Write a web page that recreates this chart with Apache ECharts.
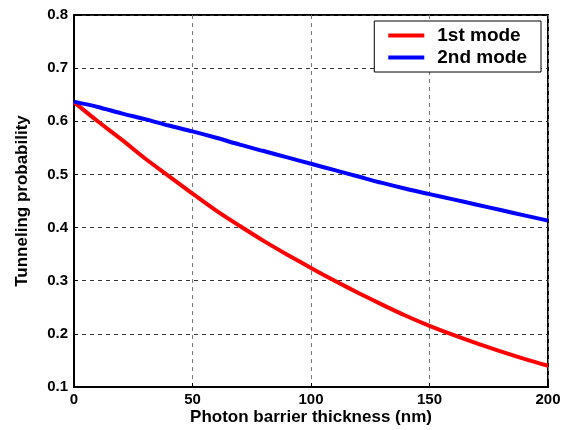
<!DOCTYPE html>
<html><head><meta charset="utf-8">
<script src="https://cdn.jsdelivr.net/npm/echarts@6/dist/echarts.min.js"></script>
<style>html,body{margin:0;padding:0;background:#fff}#c{width:561px;height:430px}</style>
</head><body><div id="c"></div>
<script>
const thickness = [0,10,20,30,40,50,60,70,80,90,100,110,120,130,140,150,160,170,180,190,200];
const mode1 = [0.636,0.600,0.566,0.530,0.497,0.464,0.432,0.403,0.375,0.349,0.324,0.300,0.277,0.255,0.234,0.215,0.198,0.182,0.167,0.153,0.140];
const mode2 = [0.637,0.627,0.615,0.604,0.592,0.581,0.569,0.556,0.544,0.532,0.520,0.508,0.496,0.484,0.473,0.463,0.453,0.443,0.433,0.423,0.413];
const seriesNames = ['1st mode','2nd mode'];
const xTitle = 'Photon barrier thickness (nm)';
const yTitle = 'Tunneling probability';

const font = 'Liberation Sans, Arial, Helvetica, sans-serif';
const chart = echarts.init(document.getElementById('c'));
const lbl = {color:'#000', fontWeight:'bold', fontSize:15, fontFamily:font};
chart.setOption({
  animation:false,
  grid:{left:74, right:13, top:15, bottom:43, show:true, borderColor:'#000', borderWidth:2, containLabel:false, outerBoundsMode:'none'},
  legend:{
    data:seriesNames, right:20, top:21, orient:'vertical',
    itemWidth:36, itemHeight:4, itemGap:3,
    backgroundColor:'#fff', borderColor:'#000', borderWidth:1, padding:[5,14,5,14],
    textStyle:{color:'#000', fontWeight:'bold', fontSize:19, fontFamily:font, padding:[0,0,0,8]},
    icon:'rect'
  },
  xAxis:{type:'value', min:0, max:200, interval:50,
    name:xTitle, nameLocation:'middle', nameGap:22, nameMoveOverlap:false,
    nameTextStyle:{color:'#000', fontWeight:'bold', fontSize:17, fontFamily:font},
    axisLine:{show:true, lineStyle:{color:'#000', width:2}},
    axisTick:{show:true, inside:true, length:4, lineStyle:{color:'#000'}},
    axisLabel:Object.assign({margin:5}, lbl),
    splitLine:{show:true, lineStyle:{color:'#777', type:[4,4], width:1}}
  },
  yAxis:{type:'value', min:0.1, max:0.8, interval:0.1,
    name:yTitle, nameLocation:'middle', nameGap:43, nameMoveOverlap:false,
    nameTextStyle:{color:'#000', fontWeight:'bold', fontSize:17, fontFamily:font},
    axisLine:{show:true, lineStyle:{color:'#000', width:2}},
    axisTick:{show:true, inside:true, length:4, lineStyle:{color:'#000'}},
    axisLabel:Object.assign({margin:6, formatter:v=>v.toFixed(1)}, lbl),
    splitLine:{show:true, lineStyle:{color:'#333', type:[4,4], width:1}}
  },
  series:[
    {name:seriesNames[0], type:'line', data:thickness.map((t,i)=>[t,mode1[i]]), showSymbol:false, smooth:0.3, lineStyle:{color:'#ff0000', width:4}, itemStyle:{color:'#ff0000'}},
    {name:seriesNames[1], type:'line', data:thickness.map((t,i)=>[t,mode2[i]]), showSymbol:false, smooth:0.3, lineStyle:{color:'#0000ff', width:4}, itemStyle:{color:'#0000ff'}}
  ]
});
</script></body></html>
